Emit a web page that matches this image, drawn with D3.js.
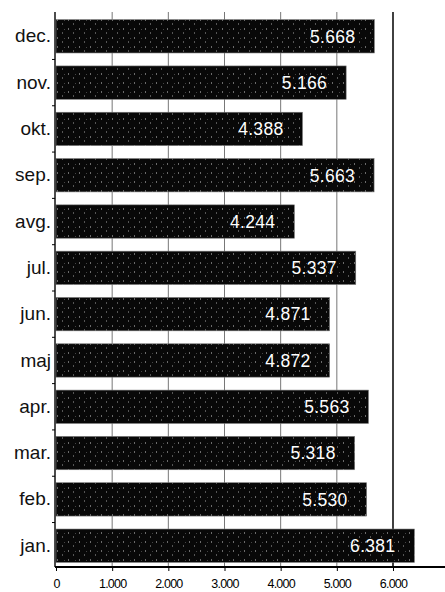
<!DOCTYPE html>
<html>
<head>
<meta charset="utf-8">
<script src="https://cdn.jsdelivr.net/npm/d3@7"></script>
<style>
  body { margin: 0; background: #fff; }
  svg { display: block; font-family: "Liberation Sans", Arial, sans-serif; }
</style>
</head>
<body>
<div class="chart"></div>
<script>
// data
const months = ["dec.", "nov.", "okt.", "sep.", "avg.", "jul.", "jun.", "maj", "apr.", "mar.", "feb.", "jan."];
const values = [5668, 5166, 4388, 5663, 4244, 5337, 4871, 4872, 5563, 5318, 5530, 6381];
const ticks = [0, 1000, 2000, 3000, 4000, 5000, 6000];

const width = 445;
const height = 592;

const fmt = v => d3.format(",")(v).replace(/,/g, ".");

const svg = d3.select('.chart')
  .append('svg')
  .attr('width', width)
  .attr('height', height)
  .attr("viewBox", `0 0 ${width} ${height}`);

const x = d3.scaleLinear()
  .domain([0, 6000])
  .range([56, 393]);

const y = d3.scaleBand()
  .domain(months)
  .range([15, 567])
  .paddingInner(0.28)
  .paddingOuter(0.1);

// speckle pattern for the bars (halftone look)
const defs = svg.append("defs");
const pat = defs.append("pattern")
  .attr("id", "speck")
  .attr("width", 11)
  .attr("height", 9)
  .attr("patternUnits", "userSpaceOnUse");
pat.append("rect").attr("width", 11).attr("height", 9).attr("fill", "#080808");
pat.append("rect").attr("x", 2).attr("y", 1).attr("width", 1).attr("height", 2).attr("fill", "#6a6a6a");
pat.append("rect").attr("x", 7).attr("y", 5).attr("width", 1).attr("height", 2).attr("fill", "#555");
pat.append("rect").attr("x", 9).attr("y", 2).attr("width", 1).attr("height", 1).attr("fill", "#444");

// gridlines
svg.append("g")
  .selectAll("line")
  .data(ticks.slice(1))
  .join("line")
  .attr("x1", d => x(d))
  .attr("x2", d => x(d))
  .attr("y1", 12)
  .attr("y2", 567)
  .attr("stroke", d => d === 6000 ? "#111" : "#777")
  .attr("stroke-width", d => d === 6000 ? 1.6 : 1);

// bars
svg.append("g")
  .selectAll("rect")
  .data(values)
  .join("rect")
  .attr("x", x(0))
  .attr("y", (d, i) => y(months[i]))
  .attr("width", d => x(d) - x(0))
  .attr("height", y.bandwidth())
  .attr("fill", "url(#speck)")
  .attr("stroke", "#777")
  .attr("stroke-width", 0.6);

// value labels
svg.append("g")
  .attr("fill", "#fff")
  .attr("font-size", "17.5px")
  .attr("letter-spacing", "0.3px")
  .attr("text-anchor", "end")
  .selectAll("text")
  .data(values)
  .join("text")
  .attr("x", d => x(d) - 19)
  .attr("y", (d, i) => y(months[i]) + y.bandwidth() / 2)
  .attr("dy", "0.36em")
  .text(d => fmt(d));

// left axis
const yAxis = g => {
  g.attr("transform", `translate(${x(0) - 1}, 0)`)
  .call(d3.axisLeft(y).tickSize(0).tickPadding(4))
  .call(g => g.select(".domain").attr("d", "M0,12V567").attr("stroke", "#000").attr("stroke-width", 1.4))
  .attr("font-size", "19px")
  .attr("font-family", null);
  g.selectAll(".tick text").attr("fill", "#111").attr("font-weight", "normal");
  g.selectAll(".sep")
    .data(months.slice(1))
    .join("line")
    .attr("class", "sep")
    .attr("x1", -3).attr("x2", 0)
    .attr("y1", d => y(d) - y.step() * y.paddingInner() / 2)
    .attr("y2", d => y(d) - y.step() * y.paddingInner() / 2)
    .attr("stroke", "#000");
};

// bottom axis
const xAxis = g => {
  g.attr("transform", `translate(0, 567)`)
  .call(d3.axisBottom(x).tickValues(ticks).tickSize(4).tickPadding(8).tickFormat(fmt))
  .call(g => g.select(".domain").attr("d", `M${x(0) - 1},0H${width}`).attr("stroke", "#000").attr("stroke-width", 2))
  .attr("font-size", "12.5px")
  .attr("font-family", null);
  g.selectAll(".tick text").attr("fill", "#000").attr("letter-spacing", "-0.8px");
};

svg.append("g").call(xAxis);
svg.append("g").call(yAxis);
</script>
</body>
</html>
